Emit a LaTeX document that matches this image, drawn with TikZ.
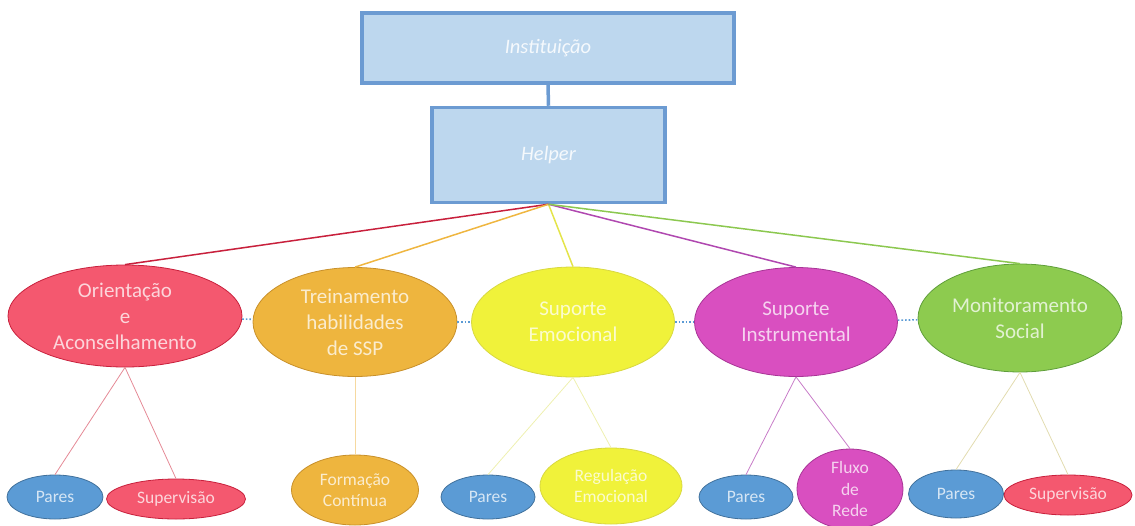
\documentclass[tikz,border=0pt]{standalone}
\usepackage{fontspec}
\setmainfont{Carlito}
\usetikzlibrary{shapes.geometric}
\definecolor{boxfill}{HTML}{BDD7EE}
\definecolor{boxline}{HTML}{6C9BD2}
\definecolor{redfill}{HTML}{F4586F}
\definecolor{redline}{HTML}{C8203C}
\definecolor{orfill}{HTML}{EEB53E}
\definecolor{orline}{HTML}{C8902A}
\definecolor{yefill}{HTML}{F0F23A}
\definecolor{yeline}{HTML}{D8D840}
\definecolor{mafill}{HTML}{D94FC0}
\definecolor{maline}{HTML}{A83596}
\definecolor{grfill}{HTML}{8DCB4F}
\definecolor{grline}{HTML}{5F9E3A}
\definecolor{blfill}{HTML}{5B9BD5}
\definecolor{blline}{HTML}{41719C}
\definecolor{cred}{HTML}{C8203C}
\definecolor{cor}{HTML}{EFB640}
\definecolor{cye}{HTML}{E4E44A}
\definecolor{cma}{HTML}{B048B0}
\definecolor{cgr}{HTML}{8CC850}
\definecolor{lred}{HTML}{E58A96}
\definecolor{lor}{HTML}{F6D9A0}
\definecolor{lye}{HTML}{EEF0B0}
\definecolor{lma}{HTML}{C87CC8}
\definecolor{lgr}{HTML}{E2DCB0}
\definecolor{dotblue}{HTML}{5B9BD5}
\tikzset{
  topbox/.style={draw=boxline, line width=3.5pt, fill=boxfill, inner sep=0pt,
    font=\fontsize{20.5}{24}\selectfont\itshape, text=white, text opacity=0.85},
  bigell/.style={ellipse, inner sep=0pt, line width=0.8pt, align=center,
    font=\fontsize{21}{26}\selectfont, text=white, text opacity=0.75},
  smallell/.style={ellipse, inner sep=0pt, line width=0.8pt, align=center,
    font=\fontsize{17.5}{21.5}\selectfont, text=white, text opacity=0.75},
  upline/.style={line width=1.5pt},
  lowline/.style={line width=0.8pt},
  dotlink/.style={draw=dotblue, dotted, line width=1.6pt}
}
\begin{document}
\begin{tikzpicture}[x=1pt,y=-1pt]
\useasboundingbox (0,0) rectangle (1135,525);
% top boxes
\node[topbox, minimum width=372pt, minimum height=70pt] (inst) at (548,48) {Instituição};
\node[topbox, minimum width=233pt, minimum height=95pt] (helper) at (548.5,155) {Helper};
\draw[boxline, line width=3.5pt] (inst.south) -- (helper.north);
% main ellipses
\node[bigell, fill=redfill, draw=redline, minimum width=234pt, minimum height=102pt] (orient) at (125,316) {Orientação\\e\\Aconselhamento};
\node[bigell, fill=orfill, draw=orline, minimum width=204pt, minimum height=109pt] (trein) at (355,322) {Treinamento\\habilidades\\de SSP};
\node[bigell, fill=yefill, draw=yeline, minimum width=203pt, minimum height=110pt] (emoc) at (573,322) {Suporte\\Emocional};
\node[bigell, fill=mafill, draw=maline, minimum width=203pt, minimum height=109pt] (instr) at (796,322) {Suporte\\Instrumental};
\node[bigell, fill=grfill, draw=grline, minimum width=204pt, minimum height=108pt] (monit) at (1020,318) {Monitoramento\\Social};
% connectors from helper
\draw[upline, cred] (helper.south) -- (orient.north);
\draw[upline, cor] (helper.south) -- (trein.north);
\draw[upline, cye] (helper.south) -- (emoc.north);
\draw[upline, cma] (helper.south) -- (instr.north);
\draw[upline, cgr] (helper.south) -- (monit.north);
% dotted links
\draw[dotlink] (orient) -- (trein);
\draw[dotlink] (trein) -- (emoc);
\draw[dotlink] (emoc) -- (instr);
\draw[dotlink] (instr) -- (monit);
% bottom ellipses
\node[smallell, fill=blfill, draw=blline, minimum width=96pt, minimum height=44pt] (p1) at (55,497) {Pares};
\node[smallell, fill=redfill, draw=redline, minimum width=139pt, minimum height=40pt] (sup1) at (176,499) {Supervisão};
\node[smallell, fill=orfill, draw=orline, minimum width=127pt, minimum height=70pt] (form) at (355,490) {Formação\\Contínua};
\node[smallell, fill=blfill, draw=blline, minimum width=94pt, minimum height=44pt] (p2) at (488,497) {Pares};
\node[smallell, fill=yefill, draw=yeline, minimum width=142pt, minimum height=76pt] (reg) at (611,486) {Regulação\\Emocional};
\node[smallell, fill=blfill, draw=blline, minimum width=94pt, minimum height=44pt] (p3) at (746,497) {Pares};
\node[smallell, fill=mafill, draw=maline, minimum width=106pt, minimum height=80pt] (fluxo) at (850,489) {Fluxo\\de\\Rede};
\node[smallell, fill=blfill, draw=blline, minimum width=95pt, minimum height=48pt] (p4) at (956,494) {Pares};
\node[smallell, fill=redfill, draw=redline, minimum width=128pt, minimum height=40pt] (sup2) at (1068,495) {Supervisão};
% lower connectors
\draw[lowline, lred] (orient.south) -- (p1.north);
\draw[lowline, lred] (orient.south) -- (sup1.north);
\draw[lowline, lor] (trein.south) -- (form.north);
\draw[lowline, lye] (emoc.south) -- (p2.north);
\draw[lowline, lye] (emoc.south) -- (reg.north);
\draw[lowline, lma] (instr.south) -- (p3.north);
\draw[lowline, lma] (instr.south) -- (fluxo.north);
\draw[lowline, lgr] (monit.south) -- (p4.north);
\draw[lowline, lgr] (monit.south) -- (sup2.north);
\end{tikzpicture}
\end{document}
